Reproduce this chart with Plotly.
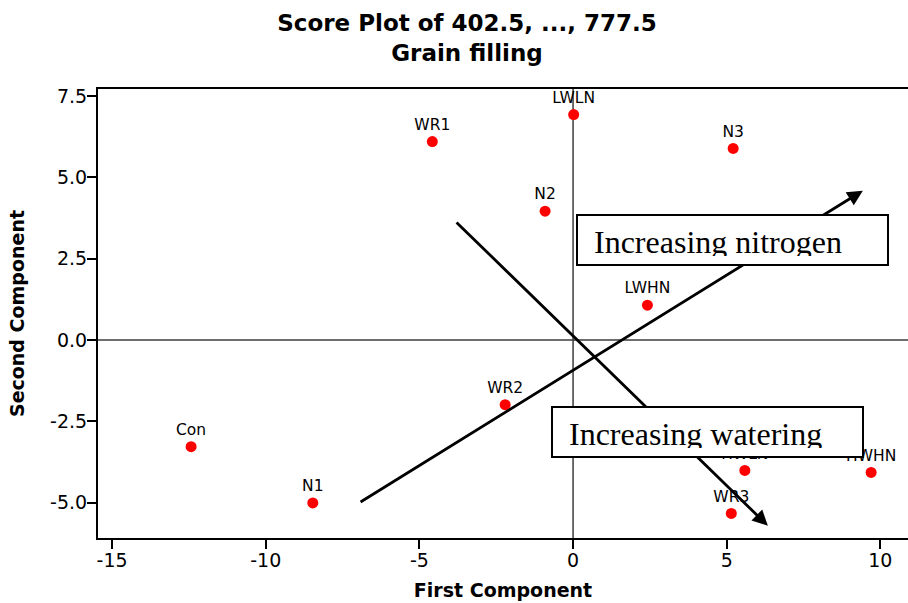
import plotly.graph_objects as go

# Principal component scores for each treatment
treatments = ["LWLN", "WR1", "N3", "N2", "LWHN", "WR2", "Con", "N1", "HWLN", "HWHN", "WR3"]
first_comp = [0.02, -4.58, 5.21, -0.91, 2.42, -2.21, -12.43, -8.47, 5.59, 9.70, 5.15]
second_comp = [6.93, 6.10, 5.89, 3.96, 1.07, -1.99, -3.28, -5.01, -4.01, -4.07, -5.33]

# Trend arrows: (tail x, tail y, head x, head y)
nitrogen_arrow = (-6.965, -5.01, 9.43, 4.59)
watering_arrow = (-3.84, 3.66, 6.34, -5.71)

# Text boxes: (label, top-left x, top-left y)
text_boxes = [
    ("Increasing nitrogen", 0.094, 3.873),
    ("Increasing watering", -0.709, -2.03),
]

x_ticks = [-15, -10, -5, 0, 5, 10]
y_ticks = [-5.0, -2.5, 0.0, 2.5, 5.0, 7.5]

sans = "DejaVu Sans"
serif = "Liberation Serif"

fig = go.Figure()

fig.add_trace(go.Scatter(
    x=first_comp, y=second_comp, mode="markers+text",
    text=treatments, textposition="top center",
    textfont=dict(family=sans, size=15.5, color="black"),
    marker=dict(color="#ff0000", size=11, line=dict(width=0)),
    showlegend=False, hoverinfo="skip",
))

annotations = []
for tx, ty, hx, hy in (nitrogen_arrow, watering_arrow):
    annotations.append(dict(
        x=hx, y=hy, ax=tx, ay=ty, xref="x", yref="y", axref="x", ayref="y",
        text="", showarrow=True, arrowhead=2, arrowsize=1.1, arrowwidth=2.8,
        arrowcolor="black", standoff=0,
    ))
for label, bx, by in text_boxes:
    annotations.append(dict(
        x=bx, y=by, xref="x", yref="y", xanchor="left", yanchor="top",
        text="\u00a0" + label, showarrow=False, align="left", valign="top",
        width=293, height=32, borderpad=8, borderwidth=2,
        bordercolor="black", bgcolor="white",
        font=dict(family=serif, size=32, color="black"),
    ))

fig.update_layout(
    width=908, height=603,
    margin=dict(l=98, r=0, t=89, b=65),
    paper_bgcolor="white", plot_bgcolor="white",
    title=dict(
        text="Score Plot of 402.5, ..., 777.5<br>Grain filling",
        x=467 / 908, xanchor="center", xref="container",
        y=0.948, yanchor="top", yref="container",
        font=dict(family=sans, size=23, color="black", weight="bold"),
    ),
    annotations=annotations,
    shapes=[
        dict(type="line", xref="x", yref="paper", x0=0, x1=0, y0=0, y1=1,
             line=dict(color="#3c3c3c", width=1.5), layer="below"),
        dict(type="line", xref="paper", yref="y", x0=0, x1=1, y0=0, y1=0,
             line=dict(color="#3c3c3c", width=1.5), layer="below"),
    ],
)

fig.update_xaxes(
    range=[-15.46, 10.90], tickvals=x_ticks, ticktext=[str(v) for v in x_ticks],
    showgrid=False, zeroline=False, showline=True, mirror=True,
    linecolor="black", linewidth=2, ticks="outside", ticklen=9,
    tickwidth=1.5, tickcolor="black", ticklabelstandoff=-5,
    tickfont=dict(family=sans, size=19, color="black"),
    title=dict(text="First Component", standoff=14,
               font=dict(family=sans, size=19, color="black", weight="bold")),
)
fig.update_yaxes(
    range=[-6.087, 7.716], tickvals=y_ticks, ticktext=[f"{v:.1f}" for v in y_ticks],
    showgrid=False, zeroline=False, showline=True, mirror=False,
    linecolor="black", linewidth=2, ticks="outside", ticklen=9,
    tickwidth=1.5, tickcolor="black", ticklabelstandoff=-4,
    tickfont=dict(family=sans, size=19, color="black"),
    title=dict(text="Second Component", standoff=20,
               font=dict(family=sans, size=19, color="black", weight="bold")),
)

fig.write_html("out.html")
